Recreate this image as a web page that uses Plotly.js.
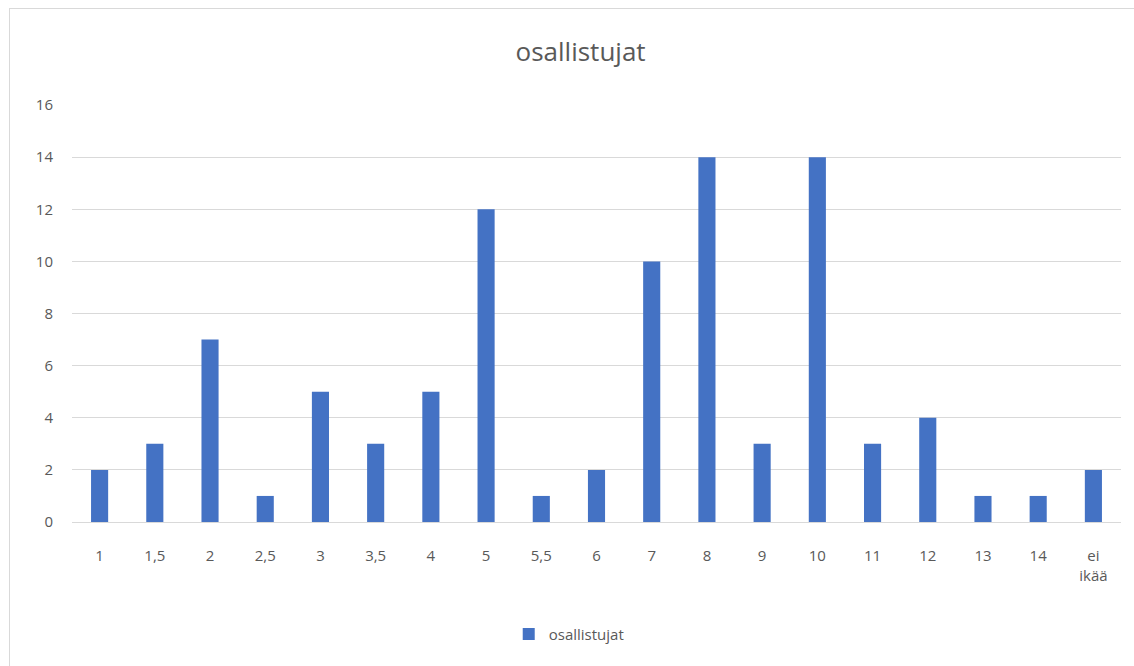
<!DOCTYPE html>
<html><head><meta charset="utf-8">
<script src="https://cdn.plot.ly/plotly-3.0.1.min.js"></script>
<style>
body{margin:0;background:#fff;}
#frame{position:absolute;left:9px;top:8px;width:1200px;height:700px;border:1px solid #d9d9d9;box-sizing:border-box;}
#chart{position:absolute;left:0;top:0;width:1134px;height:666px;}
</style></head>
<body><div id="frame"></div><div id="chart"></div>
<script>
const categories = ["1","1,5","2","2,5","3","3,5","4","5","5,5","6","7","8","9","10","11","12","13","14","ei<br>ikää"];
const osallistujat = [2,3,7,1,5,3,5,12,1,2,10,14,3,14,3,4,1,1,2];
const yTicks = [0,2,4,6,8,10,12,14,16];

Plotly.newPlot('chart', [{
  type:'bar', x:categories, y:osallistujat, name:'osallistujat',
  marker:{color:'#4472c4'}, hoverinfo:'x+y'
}], {
  width:1134, height:666,
  paper_bgcolor:'rgba(0,0,0,0)', plot_bgcolor:'rgba(0,0,0,0)',
  margin:{l:72, r:13, t:105, b:144},
  bargap:0.69,
  font:{family:'"Open Sans", "Noto Sans", sans-serif', color:'#595959', size:15},
  title:{text:'osallistujat', x:0.512, xanchor:'center', y:0.922, yanchor:'middle', font:{size:26, color:'#595959'}},
  xaxis:{type:'category', showgrid:false, showline:true, linecolor:'#d9d9d9', linewidth:1, ticks:'', ticklabelstandoff:20, tickfont:{size:15, color:'#595959'}, zeroline:false},
  yaxis:{range:[0,16], tickvals:yTicks, showgrid:true, gridcolor:'#d9d9d9', gridwidth:1, zeroline:false, showline:false, ticks:'', ticklabelstandoff:18, tickfont:{size:15, color:'#595959'}},
  showlegend:true,
  legend:{orientation:'h', x:0.474, xanchor:'center', y:-0.269, yanchor:'middle', font:{size:15, color:'#595959'}}
}, {displayModeBar:false});
</script></body></html>
